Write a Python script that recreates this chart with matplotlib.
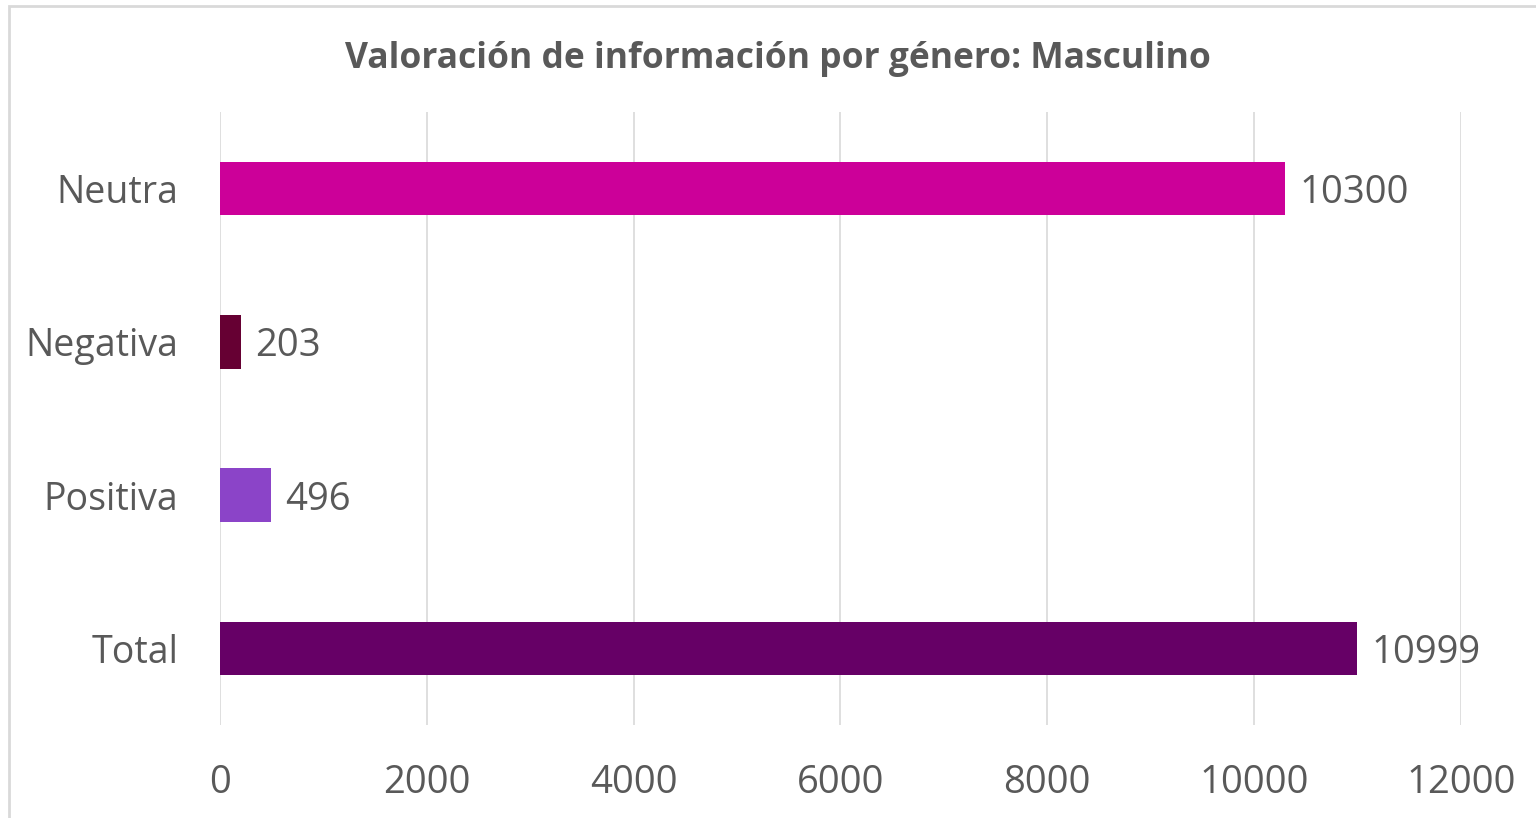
import matplotlib.pyplot as plt
from matplotlib.patches import Rectangle

# Datos
categorias = ["Total", "Positiva", "Negativa", "Neutra"]
valores = [10999, 496, 203, 10300]
colores = ["#660066", "#8B44C8", "#660033", "#CC0099"]
ticks_x = [0, 2000, 4000, 6000, 8000, 10000, 12000]

plt.rcParams['font.family'] = ['Open Sans', 'DejaVu Sans']
gris = "#595959"

fig = plt.figure(figsize=(15.36, 8.18), dpi=100)
ax = fig.add_axes([220 / 1536, 1 - 725 / 818, 1241 / 1536, 613 / 818])

# marco del gráfico
fig.patches.append(Rectangle((9 / 1536, -0.05), 1.1, 1 - 6 / 818 + 0.05,
                             transform=fig.transFigure, fill=False,
                             edgecolor="#D9D9D9", linewidth=2))

pos = range(len(categorias))
ax.barh(pos, valores, height=0.35, color=colores, zorder=2)

for y, v in zip(pos, valores):
    ax.annotate(str(v), xy=(v, y), xytext=(10, 0), textcoords="offset points",
                va="center_baseline", ha="left", fontsize=27.5, color=gris)

ax.set_xlim(0, 12000)
ax.set_ylim(-0.5, 3.5)
ax.set_xticks(ticks_x)
ax.set_yticks(list(pos))
ax.set_yticklabels(categorias)
ax.tick_params(axis="x", length=0, labelsize=27.5, labelcolor=gris, pad=28)
ax.tick_params(axis="y", length=0, labelsize=27, labelcolor=gris, pad=30)
ax.grid(axis="x", color="#D9D9D9", linewidth=1.2, zorder=0)
for s in ax.spines.values():
    s.set_visible(False)

fig.text(778 / 1536, 1 - 59 / 818, "Valoración de información por género: Masculino",
         ha="center", va="center", fontsize=25.5, fontweight="bold", color=gris)

fig.savefig("out.png", dpi=100)
